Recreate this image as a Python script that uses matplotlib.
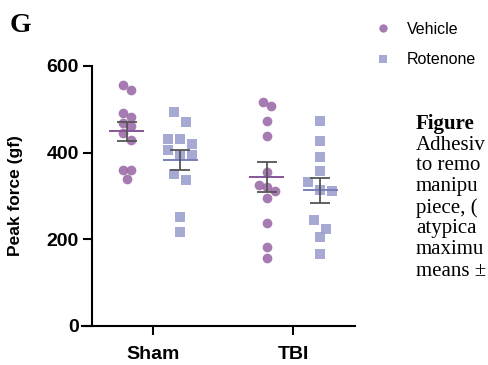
import numpy as np
import matplotlib
matplotlib.use("Agg")
import matplotlib.pyplot as plt

# values (gf)
groups = ["Sham", "TBI"]
sham_vehicle = [556, 545, 491, 483, 469, 462, 445, 429, 360, 360, 339]
sham_rotenone = [495, 471, 431, 431, 419, 406, 395, 395, 351, 337, 251, 218]
tbi_vehicle = [516, 508, 474, 438, 356, 325, 320, 312, 295, 237, 183, 156]
tbi_rotenone = [472, 428, 391, 358, 333, 314, 312, 245, 225, 206, 166]
yticks = [0, 200, 400, 600]

caption = ["Adhesiv", "to remo", "manipu", "piece, (", "atypica", "maximu", "means \u00b1"]

veh_color = "#9a69a6"
rot_color = "#9a9fcd"

fig = plt.figure(figsize=(4.88, 3.65), dpi=100)
ax = fig.add_axes([82 / 488, 1 - 326 / 365, 273 / 488, 260 / 365])
ax.set_xlim(-0.507, 1.443)
ax.set_ylim(0, 600)

# pixel scale of the axes, used for the swarm layout
px_x = 273 / (1.443 + 0.507)
px_y = 260 / 600


def swarm(values, step_px, diam_px):
    """Prism-like scatter: points closer than a marker go in one row, centred"""
    order = sorted(range(len(values)), key=lambda i: -values[i])
    rows = []
    for i in order:
        if rows and (values[rows[-1][0]] - values[i]) * px_y < diam_px:
            rows[-1].append(i)
        else:
            rows.append([i])
    offs = np.zeros(len(values))
    for row in rows:
        n = len(row)
        for k, i in enumerate(row):
            offs[i] = (k - (n - 1) / 2) * step_px / px_x
    return offs


series = [
    (0, -0.186, sham_vehicle, "o", veh_color, "#86559a", 8.0, 8.5),
    (0, 0.193, sham_rotenone, "s", rot_color, "#7a7fbd", 12.3, 10.5),
    (1, -0.186, tbi_vehicle, "o", veh_color, "#86559a", 8.0, 8.5),
    (1, 0.193, tbi_rotenone, "s", rot_color, "#7a7fbd", 12.3, 10.5),
]

for gx, off, vals, mk, col, mcol, step, diam in series:
    vals = np.array(vals, dtype=float)
    xc = gx + off
    xs = xc + swarm(vals, step, diam)
    ms = 7.0 if mk == "o" else 7.6
    ax.plot(xs, vals, linestyle="none", marker=mk, markersize=ms,
            color=col, alpha=0.88, markeredgewidth=0, zorder=2)
    mean = vals.mean()
    sem = vals.std(ddof=1) / np.sqrt(len(vals))
    ax.hlines(mean, xc - 0.125, xc + 0.125, color=mcol, lw=1.4, zorder=3)
    ax.errorbar(xc, mean, yerr=sem, color="#555555", capsize=7.5,
                elinewidth=1.3, capthick=1.3, zorder=4)

# Prism-like axes
for s in ["top", "right"]:
    ax.spines[s].set_visible(False)
ax.spines["left"].set_linewidth(1.5)
ax.spines["bottom"].set_linewidth(1.5)
ax.spines["left"].set_position(("outward", -7.2))
ax.spines["left"].set_bounds(0, 600)

ax.set_yticks(yticks)
ax.set_xticks([0, 1])
ax.set_xticklabels(groups)
ax.tick_params(width=1.5, length=6.5, labelsize=14, pad=3)
ax.tick_params(axis="x", pad=8)
for lab in ax.get_xticklabels() + ax.get_yticklabels():
    lab.set_fontfamily("Liberation Sans")
    lab.set_fontweight("bold")

ax.set_ylabel("Peak force (gf)", fontsize=12.5, fontweight="bold",
              family="Liberation Sans")
ax.yaxis.set_label_coords(-0.215, 0.5)

# legend
h1, = ax.plot([], [], linestyle="none", marker="o", markersize=6,
              color=veh_color, alpha=0.88, markeredgewidth=0)
h2, = ax.plot([], [], linestyle="none", marker="s", markersize=6,
              color=rot_color, alpha=0.88, markeredgewidth=0)
fig.legend([h1, h2], ["Vehicle", "Rotenone"], loc="upper left",
           bbox_to_anchor=(373 / 488, 1 - 22 / 365), frameon=False,
           prop={"family": "Liberation Sans", "size": 11.5},
           handlelength=1.2, handletextpad=0.9, labelspacing=0.95,
           borderaxespad=0, borderpad=0)

# panel letter
fig.text(10 / 488, 1 - 25 / 365, "G", family="Liberation Serif",
         fontweight="bold", fontsize=20, va="center", ha="left")

# caption fragment on the right
fig.text(416 / 488, 1 - 124 / 365, "Figure", family="Liberation Serif",
         fontweight="bold", fontsize=15, va="center", ha="left")
for i, line in enumerate(caption):
    fig.text(416 / 488, 1 - (145 + 21.0 * i) / 365, line,
             family="Liberation Serif", fontsize=15, va="center", ha="left")

fig.savefig("out.png", dpi=100)
